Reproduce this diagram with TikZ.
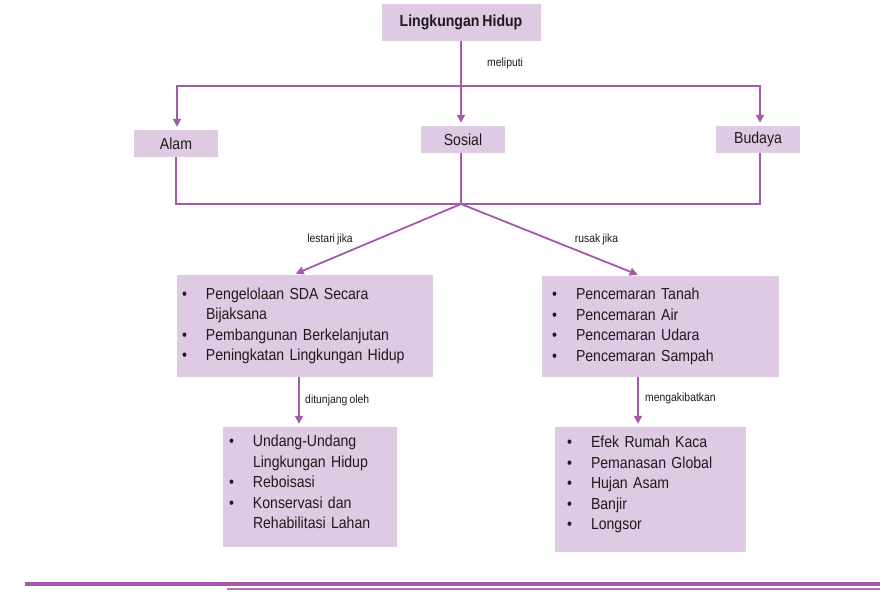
\documentclass[tikz,border=0pt]{standalone}
\usepackage{fontspec}
\setmainfont[FakeStretch=0.88, WordSpace=0.75]{Liberation Sans}
\usepackage{xcolor}
\usepackage{tikz}
\usetikzlibrary{arrows.meta, positioning}

\definecolor{lila}{HTML}{A45AAA}
\definecolor{lilafill}{HTML}{DFCAE3}
\definecolor{ink}{HTML}{1E1A1C}

\newcommand{\itm}{\makebox[24pt][l]{\textbullet}}
\newcommand{\cont}{\hspace*{24pt}}

\begin{document}
\begin{tikzpicture}[
  x=1pt, y=-1pt,
  box/.style={rectangle, fill=lilafill, text=ink, inner sep=0pt,
              font=\fontsize{16}{20.5}\selectfont},
  listbox/.style={rectangle, fill=lilafill, text=ink, align=left,
                  inner ysep=4pt, font=\fontsize{16}{20.5}\selectfont},
  line/.style={draw=lila, line width=1.8pt},
  arrow/.style={line, ->, >={Triangle[length=8pt,width=8pt]}, shorten >=3pt},
  lbl/.style={font=\fontsize{11.8}{13}\selectfont, text=ink}
]
\useasboundingbox (0,0) rectangle (896,598);

\node[box, minimum width=159pt, minimum height=37pt, font=\fontsize{16}{18}\selectfont\bfseries]
  (lingkungan) at (461,22.5) {Lingkungan Hidup};

\node[box, minimum width=84pt, minimum height=27pt] (alam)   at (176,143.5) {Alam};
\node[box, minimum width=84pt, minimum height=27pt] (sosial) at (463,139.5) {Sosial};
\node[box, minimum width=84pt, minimum height=27pt] (budaya) at (758,139.5) {Budaya};

\node[listbox, inner xsep=5pt, text width=246pt, minimum height=102pt] (lestari) at (305,326)
  {\itm Pengelolaan SDA Secara\\
   \cont Bijaksana\\
   \itm Pembangunan Berkelanjutan\\
   \itm Peningkatan Lingkungan Hidup};

\node[listbox, inner xsep=10pt, text width=217pt, minimum height=101pt] (rusak) at (660.5,326.5)
  {\itm Pencemaran Tanah\\
   \itm Pencemaran Air\\
   \itm Pencemaran Udara\\
   \itm Pencemaran Sampah};

\node[listbox, inner xsep=6pt, text width=162pt, minimum height=120pt] (tunjang) at (310,487)
  {\itm Undang-Undang\\
   \cont Lingkungan Hidup\\
   \itm Reboisasi\\
   \itm Konservasi dan\\
   \cont Rehabilitasi Lahan\\[-10pt]\mbox{}};

\node[listbox, inner xsep=12pt, text width=167pt, minimum height=125pt] (akibat) at (650.5,489.5)
  {\itm Efek Rumah Kaca\\
   \itm Pemanasan Global\\
   \itm Hujan Asam\\
   \itm Banjir\\
   \itm Longsor\\[-7pt]\mbox{}};

\coordinate (split) at (461,86);
\coordinate (join)  at (461,204);

\draw[line] (lingkungan) -- node[lbl, right=22pt] {meliputi} (split);
\draw[arrow] (split) -| ([xshift=1pt]alam.north);
\draw[arrow] (split) -- (split |- sosial.north);
\draw[arrow] (split) -| ([xshift=2pt]budaya.north);

\draw[line] (alam.south) |- (join);
\draw[line] ([xshift=2pt]budaya.south) |- (join);
\draw[line] (sosial.south -| join) -- (join);

\draw[arrow] (join) -- node[lbl, left=20pt] {lestari jika} ([xshift=-12pt]lestari.north);
\draw[arrow] (join) -- node[lbl, right=20pt] {rusak jika} ([xshift=-20pt]rusak.north);

\draw[arrow] ([xshift=-6pt]lestari.south) --
  node[lbl, right=2pt, yshift=2pt] {ditunjang oleh} ([xshift=-6pt]lestari.south |- tunjang.north);
\draw[arrow] ([xshift=-22.5pt]rusak.south) --
  node[lbl, right=3pt, yshift=4pt] {mengakibatkan} ([xshift=-22.5pt]rusak.south |- akibat.north);

\fill[lila] (25,582.2) rectangle (880,585.8);
\fill[lila!85] (227,587.5) rectangle (880,589.6);
\end{tikzpicture}
\end{document}
